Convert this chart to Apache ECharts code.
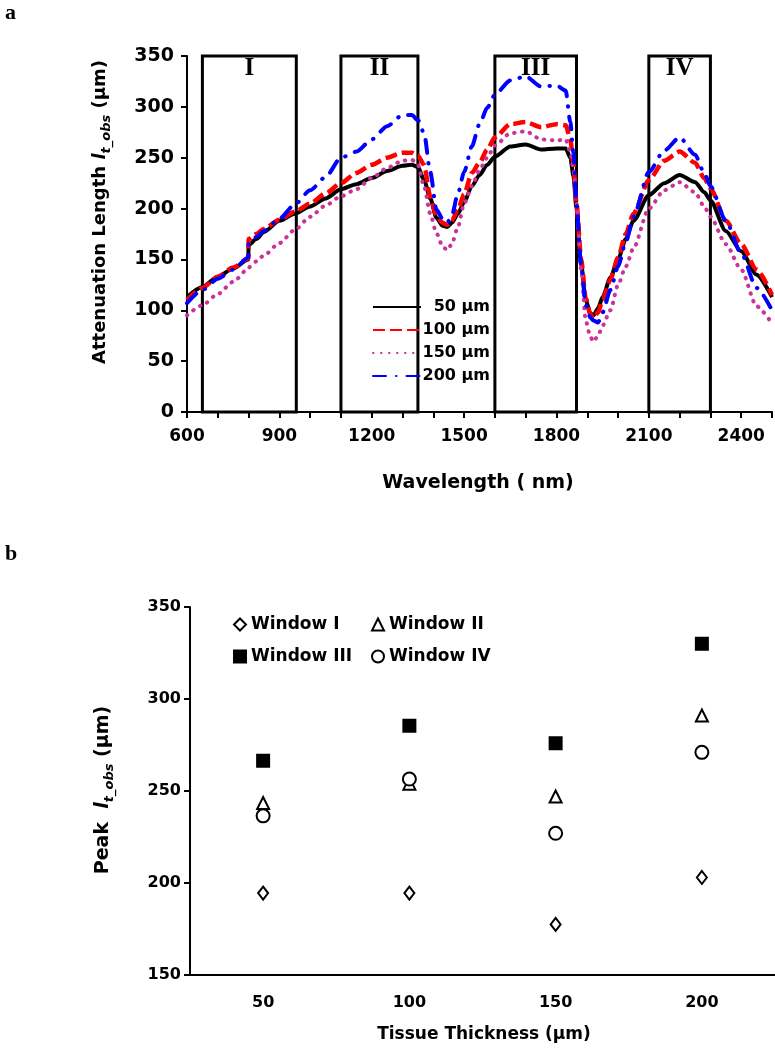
<!DOCTYPE html>
<html>
<head>
<meta charset="utf-8">
<script src="https://cdn.jsdelivr.net/npm/echarts@6/dist/echarts.min.js"></script>
<style>html,body{margin:0;padding:0;background:#fff}#c{width:775px;height:1050px}</style>
</head>
<body>
<div id="c"></div>
<script>
// ---------- Panel a data ----------
const wavelength = [600, 650, 700, 750, 799, 800, 825, 850, 900, 950, 1000, 1050, 1100, 1150, 1200, 1250, 1300, 1330, 1350, 1370, 1390, 1410, 1430, 1445, 1460, 1480, 1500, 1525, 1550, 1575, 1600, 1650, 1700, 1750, 1800, 1830, 1845, 1855, 1865, 1880, 1895, 1910, 1920, 1935, 1950, 1975, 2000, 2025, 2050, 2100, 2150, 2200, 2250, 2280, 2300, 2350, 2400, 2450, 2500];
const len50  = [113, 123, 133, 141, 150, 164, 170, 177, 188, 195, 202, 210, 219, 224, 230, 237, 242, 243, 241, 228, 210, 191, 183, 182, 186, 195, 206, 222, 233, 243, 251, 261, 263, 258, 259, 259, 250, 232, 200, 145, 110, 97, 95, 102, 113, 132, 150, 170, 188, 213, 225, 233, 226, 216, 208, 178, 158, 135, 113];
const len100 = [110, 122, 133, 142, 151, 170, 175, 180, 189, 197, 205, 215, 225, 235, 243, 250, 255, 255, 252, 243, 212, 193, 186, 184, 188, 199, 214, 235, 245, 258, 270, 283, 285, 280, 283, 282, 268, 245, 205, 150, 112, 96, 92, 98, 110, 130, 152, 175, 195, 228, 247, 256, 245, 230, 220, 188, 165, 140, 115];
const len150 = [95, 105, 116, 128, 141, 141, 148, 154, 166, 179, 192, 203, 212, 219, 230, 240, 247, 248, 243, 222, 195, 176, 163, 159, 165, 182, 205, 222, 238, 250, 262, 274, 276, 268, 267, 268, 255, 240, 205, 140, 90, 74, 69, 75, 85, 100, 125, 143, 161, 200, 218, 226, 216, 202, 192, 165, 140, 104, 87];
const len200 = [107, 120, 131, 140, 152, 165, 172, 178, 190, 204, 218, 231, 250, 256, 268, 281, 292, 292, 287, 274, 236, 199, 190, 186, 193, 215, 236, 261, 283, 299, 312, 326, 330, 320, 321, 316, 285, 255, 205, 145, 105, 93, 90, 88, 98, 120, 143, 167, 192, 236, 257, 270, 253, 235, 222, 188, 156, 122, 100];
const seriesNames = ['50 µm', '100 µm', '150 µm', '200 µm'];
const windowLabels = ['I', 'II', 'III', 'IV'];
const windowStart = [650, 1100, 1600, 2100];
const windowEnd = [955, 1350, 1865, 2300];
const xTickLabels = [600, 900, 1200, 1500, 1800, 2100, 2400];

// ---------- Panel b data ----------
const thickness = ['50', '100', '150', '200'];
const windowNames = ['Window I', 'Window II', 'Window III', 'Window IV'];
const peakWindow1 = [194.5, 194.5, 177.5, 203];
const peakWindow2 = [243.5, 254, 247, 291];
const peakWindow3 = [266.5, 285.5, 276, 330];
const peakWindow4 = [236.5, 256.5, 227, 271];

const F = '"DejaVu Sans", sans-serif';
const SERIF = '"Liberation Serif", "Times New Roman", serif';

function zip(xs, ys) { return xs.map((x, i) => [x, ys[i]]); }

const lineStyles = [
  { color: '#000000', width: 4, type: 'solid' },
  { color: '#ff0000', width: 4.5, type: [12, 5] },
  { color: '#cc3399', width: 4, type: [0.5, 7.5], cap: 'round' },
  { color: '#0000ff', width: 4, type: [13, 10, 0.5, 10], cap: 'round' }
];
const lenData = [len50, len100, len150, len200];

const lineSeries = lenData.map((d, i) => ({
  name: seriesNames[i],
  type: 'line',
  xAxisIndex: 0, yAxisIndex: 0,
  data: zip(wavelength, d),
  symbol: 'none',
  smooth: 0.25,
  smoothMonotone: 'x',
  lineStyle: lineStyles[i],
  itemStyle: { color: lineStyles[i].color },
  z: 2 + i,
  silent: true
}));

const boxSeries = {
  type: 'line', xAxisIndex: 0, yAxisIndex: 0,
  data: [], symbol: 'none', silent: true, z: 10,
  markArea: {
    silent: true,
    itemStyle: { color: 'rgba(0,0,0,0)', borderColor: '#000', borderWidth: 3 },
    label: { show: true, position: 'insideTop', distance: 2, color: '#000', fontFamily: SERIF, fontWeight: 'bold', fontSize: 25 },
    emphasis: { disabled: true },
    data: windowLabels.map((lab, i) => [
      { name: lab, xAxis: windowStart[i], yAxis: 0 },
      { xAxis: windowEnd[i], yAxis: 350 }
    ])
  }
};

const symbolDefs = [
  { symbol: 'diamond', size: [10, 13], fill: '#fff' },
  { symbol: 'triangle', size: [12, 12], fill: '#fff' },
  { symbol: 'rect', size: [12, 12], fill: '#000' },
  { symbol: 'circle', size: [13, 13], fill: '#fff' }
];
const peakData = [peakWindow1, peakWindow2, peakWindow3, peakWindow4];
const scatterSeries = peakData.map((d, i) => ({
  name: windowNames[i],
  type: 'scatter',
  xAxisIndex: 1, yAxisIndex: 1,
  data: d,
  symbol: symbolDefs[i].symbol,
  symbolSize: symbolDefs[i].size,
  itemStyle: { color: symbolDefs[i].fill, borderColor: '#000', borderWidth: 2, opacity: 1 },
  silent: true,
  z: 5
}));

const axisCommon = {
  axisLine: { show: true, lineStyle: { color: '#000', width: 2 } },
  axisTick: { show: true, inside: false, length: 6, lineStyle: { color: '#000', width: 2 } },
  splitLine: { show: false }
};

const option = {
  animation: false,
  backgroundColor: '#fff',
  grid: [
    { left: 187, top: 56, width: 591, height: 356 },
    { left: 190, top: 607, width: 589, height: 368 }
  ],
  xAxis: [
    Object.assign({
      gridIndex: 0, type: 'value', min: 600, max: 2500, interval: 100,
      axisLabel: { margin: 16, color: '#000', fontFamily: F, fontWeight: 'bold', fontSize: 17,
        formatter: v => xTickLabels.indexOf(v) >= 0 ? String(v) : '' }
    }, axisCommon),
    Object.assign({}, axisCommon, {
      gridIndex: 1, type: 'category', data: thickness, boundaryGap: true,
      axisTick: { show: false },
      axisLabel: { margin: 20, color: '#000', fontFamily: F, fontWeight: 'bold', fontSize: 16 }
    })
  ],
  yAxis: [
    Object.assign({
      gridIndex: 0, type: 'value', min: 0, max: 350, interval: 50,
      axisLabel: { margin: 13, color: '#000', fontFamily: F, fontWeight: 'bold', fontSize: 19 }
    }, axisCommon),
    Object.assign({
      gridIndex: 1, type: 'value', min: 150, max: 350, interval: 50,
      axisLabel: { margin: 9, color: '#000', fontFamily: F, fontWeight: 'bold', fontSize: 16 }
    }, axisCommon)
  ],
  legend: [
    {
      orient: 'vertical', left: 367, top: 294, itemWidth: 48, itemHeight: 14, itemGap: 7,
      data: seriesNames, selectedMode: false,
      itemStyle: { opacity: 0 },
      formatter: '{a|{name}}',
      textStyle: { color: '#000', fontFamily: F, fontWeight: 'bold', fontSize: 16,
        rich: { a: { width: 64, align: 'right', color: '#000', fontFamily: F, fontWeight: 'bold', fontSize: 16 } } }
    },
    {
      orient: 'vertical', left: 228, top: 611, itemWidth: 12, itemHeight: 12, itemGap: 15,
      data: [windowNames[0], windowNames[2]], selectedMode: false,
      textStyle: { color: '#000', fontFamily: F, fontWeight: 'bold', fontSize: 17 }
    },
    {
      orient: 'vertical', left: 366, top: 611, itemWidth: 12, itemHeight: 12, itemGap: 15,
      data: [windowNames[1], windowNames[3]], selectedMode: false,
      textStyle: { color: '#000', fontFamily: F, fontWeight: 'bold', fontSize: 17 }
    }
  ],
  graphic: [
    { type: 'text', left: 5, top: 2, style: { text: 'a', font: 'bold 22px ' + SERIF, fill: '#000' } },
    { type: 'text', left: 5, top: 543, style: { text: 'b', font: 'bold 22px ' + SERIF, fill: '#000' } },
    { type: 'text', x: 478, y: 483, style: { text: 'Wavelength ( nm)', font: 'bold 19px ' + F, fill: '#000', align: 'center', verticalAlign: 'middle' } },
    { type: 'text', x: 484, y: 1035, style: { text: 'Tissue Thickness (µm)', font: 'bold 17px ' + F, fill: '#000', align: 'center', verticalAlign: 'middle' } },
    {
      type: 'text', x: 100, y: 212, rotation: Math.PI / 2,
      style: {
        text: '{n|Attenuation Length }{i|l}{s|t_obs}{n| (µm)}', align: 'center', verticalAlign: 'middle', fill: '#000',
        rich: {
          n: { fontFamily: F, fontWeight: 'bold', fontSize: 18, lineHeight: 26, fill: '#000' },
          i: { fontFamily: F, fontWeight: 'bold', fontStyle: 'italic', fontSize: 18, lineHeight: 26, fill: '#000' },
          s: { fontFamily: F, fontWeight: 'bold', fontStyle: 'italic', fontSize: 13, lineHeight: 12, verticalAlign: 'bottom', fill: '#000' }
        }
      }
    },
    {
      type: 'text', x: 103, y: 790, rotation: Math.PI / 2,
      style: {
        text: '{n|Peak  }{i|l}{s|t_obs}{n| (µm)}', align: 'center', verticalAlign: 'middle', fill: '#000',
        rich: {
          n: { fontFamily: F, fontWeight: 'bold', fontSize: 19, lineHeight: 26, fill: '#000' },
          i: { fontFamily: F, fontWeight: 'bold', fontStyle: 'italic', fontSize: 19, lineHeight: 26, fill: '#000' },
          s: { fontFamily: F, fontWeight: 'bold', fontStyle: 'italic', fontSize: 13, lineHeight: 12, verticalAlign: 'bottom', fill: '#000' }
        }
      }
    }
  ],
  series: lineSeries.concat([boxSeries]).concat(scatterSeries)
};

const chart = echarts.init(document.getElementById('c'), null, { renderer: 'canvas' });
chart.setOption(option);
</script>
</body>
</html>
